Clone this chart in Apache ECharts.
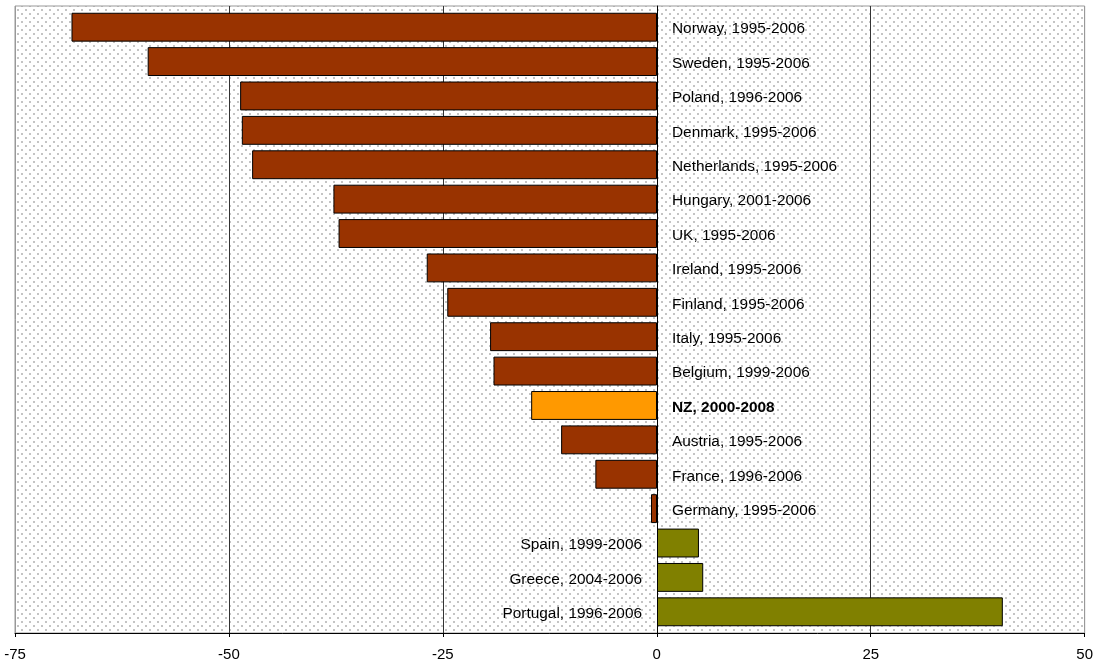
<!DOCTYPE html>
<html>
<head>
<meta charset="utf-8">
<script src="https://cdn.jsdelivr.net/npm/echarts@6/dist/echarts.min.js"></script>
<style>
  html, body { margin: 0; padding: 0; background: #fff; }
  #chart { width: 1096px; height: 666px; }
</style>
</head>
<body>
<div id="chart"></div>
<script>
// categories, top to bottom
var countries = [
  'Norway, 1995-2006', 'Sweden, 1995-2006', 'Poland, 1996-2006', 'Denmark, 1995-2006',
  'Netherlands, 1995-2006', 'Hungary, 2001-2006', 'UK, 1995-2006', 'Ireland, 1995-2006',
  'Finland, 1995-2006', 'Italy, 1995-2006', 'Belgium, 1999-2006', 'NZ, 2000-2008',
  'Austria, 1995-2006', 'France, 1996-2006', 'Germany, 1995-2006', 'Spain, 1999-2006',
  'Greece, 2004-2006', 'Portugal, 1996-2006'
];
var changes = [
  -68.4, -59.5, -48.7, -48.5, -47.3, -37.8, -37.2, -26.9,
  -24.5, -19.5, -19.1, -14.7, -11.2, -7.2, -0.7, 4.9, 5.4, 40.4
];
var highlight = 'NZ, 2000-2008';

// dotted background like the excel fill
var tile = document.createElement('canvas');
tile.width = 8;
tile.height = 8;
var tctx = tile.getContext('2d');
tctx.fillStyle = '#ffffff';
tctx.fillRect(0, 0, 8, 8);
tctx.fillStyle = '#c4c4c4';
tctx.fillRect(1, 1, 2, 2);
tctx.fillRect(5, 5, 2, 2);

var chart = echarts.init(document.getElementById('chart'));

var barData = countries.map(function (name, i) {
  var v = changes[i];
  var color = v > 0 ? '#808000' : '#993300';
  if (name === highlight) color = '#FF9900';
  return {
    value: v,
    itemStyle: { color: color },
    label: {
      position: v > 0 ? 'left' : 'right',
      fontWeight: name === highlight ? 'bold' : 'normal'
    }
  };
});

var labelFont = 'Liberation Sans, Arial, sans-serif';

chart.setOption({
  animation: false,
  grid: [
    // plot frame + background + x axis
    {
      left: 15, right: 11, top: 6, bottom: 33,
      show: true,
      backgroundColor: { image: tile, repeat: 'repeat' },
      borderColor: '#999',
      borderWidth: 1
    },
    // bars sit a bit inside the frame, like excel does
    { left: 15, right: 11, top: 10, bottom: 37 }
  ],
  xAxis: [
    {
      gridIndex: 0,
      type: 'value',
      min: -75,
      max: 50,
      interval: 25,
      axisLine: { show: true, lineStyle: { color: '#000', width: 1 } },
      axisTick: { show: true, length: 4, lineStyle: { color: '#000' } },
      axisLabel: { color: '#000', fontSize: 15, fontFamily: labelFont, margin: 14 },
      splitLine: {
        show: true,
        lineStyle: { color: ['#999', '#333', '#333', '#333', '#333', '#999'], width: 1 }
      }
    },
    {
      gridIndex: 1,
      type: 'value',
      min: -75,
      max: 50,
      interval: 25,
      show: false
    }
  ],
  yAxis: [
    {
      // only draws the zero line across the whole frame
      gridIndex: 0,
      type: 'category',
      data: [''],
      axisLine: { show: true, onZero: true, lineStyle: { color: '#000', width: 1 } },
      axisTick: { show: false },
      axisLabel: { show: false },
      splitLine: { show: false }
    },
    {
      gridIndex: 1,
      type: 'category',
      inverse: true,
      data: countries,
      axisLine: { show: false },
      axisTick: { show: false },
      axisLabel: { show: false },
      splitLine: { show: false }
    }
  ],
  series: [{
    type: 'bar',
    xAxisIndex: 1,
    yAxisIndex: 1,
    data: barData,
    barCategoryGap: '16%',
    itemStyle: { borderColor: '#000', borderWidth: 1 },
    label: {
      show: true,
      formatter: function (p) { return p.name; },
      color: '#000',
      fontSize: 15.4,
      fontFamily: labelFont,
      distance: 15,
      offset: [0, 2]
    }
  }]
});
</script>
</body>
</html>
